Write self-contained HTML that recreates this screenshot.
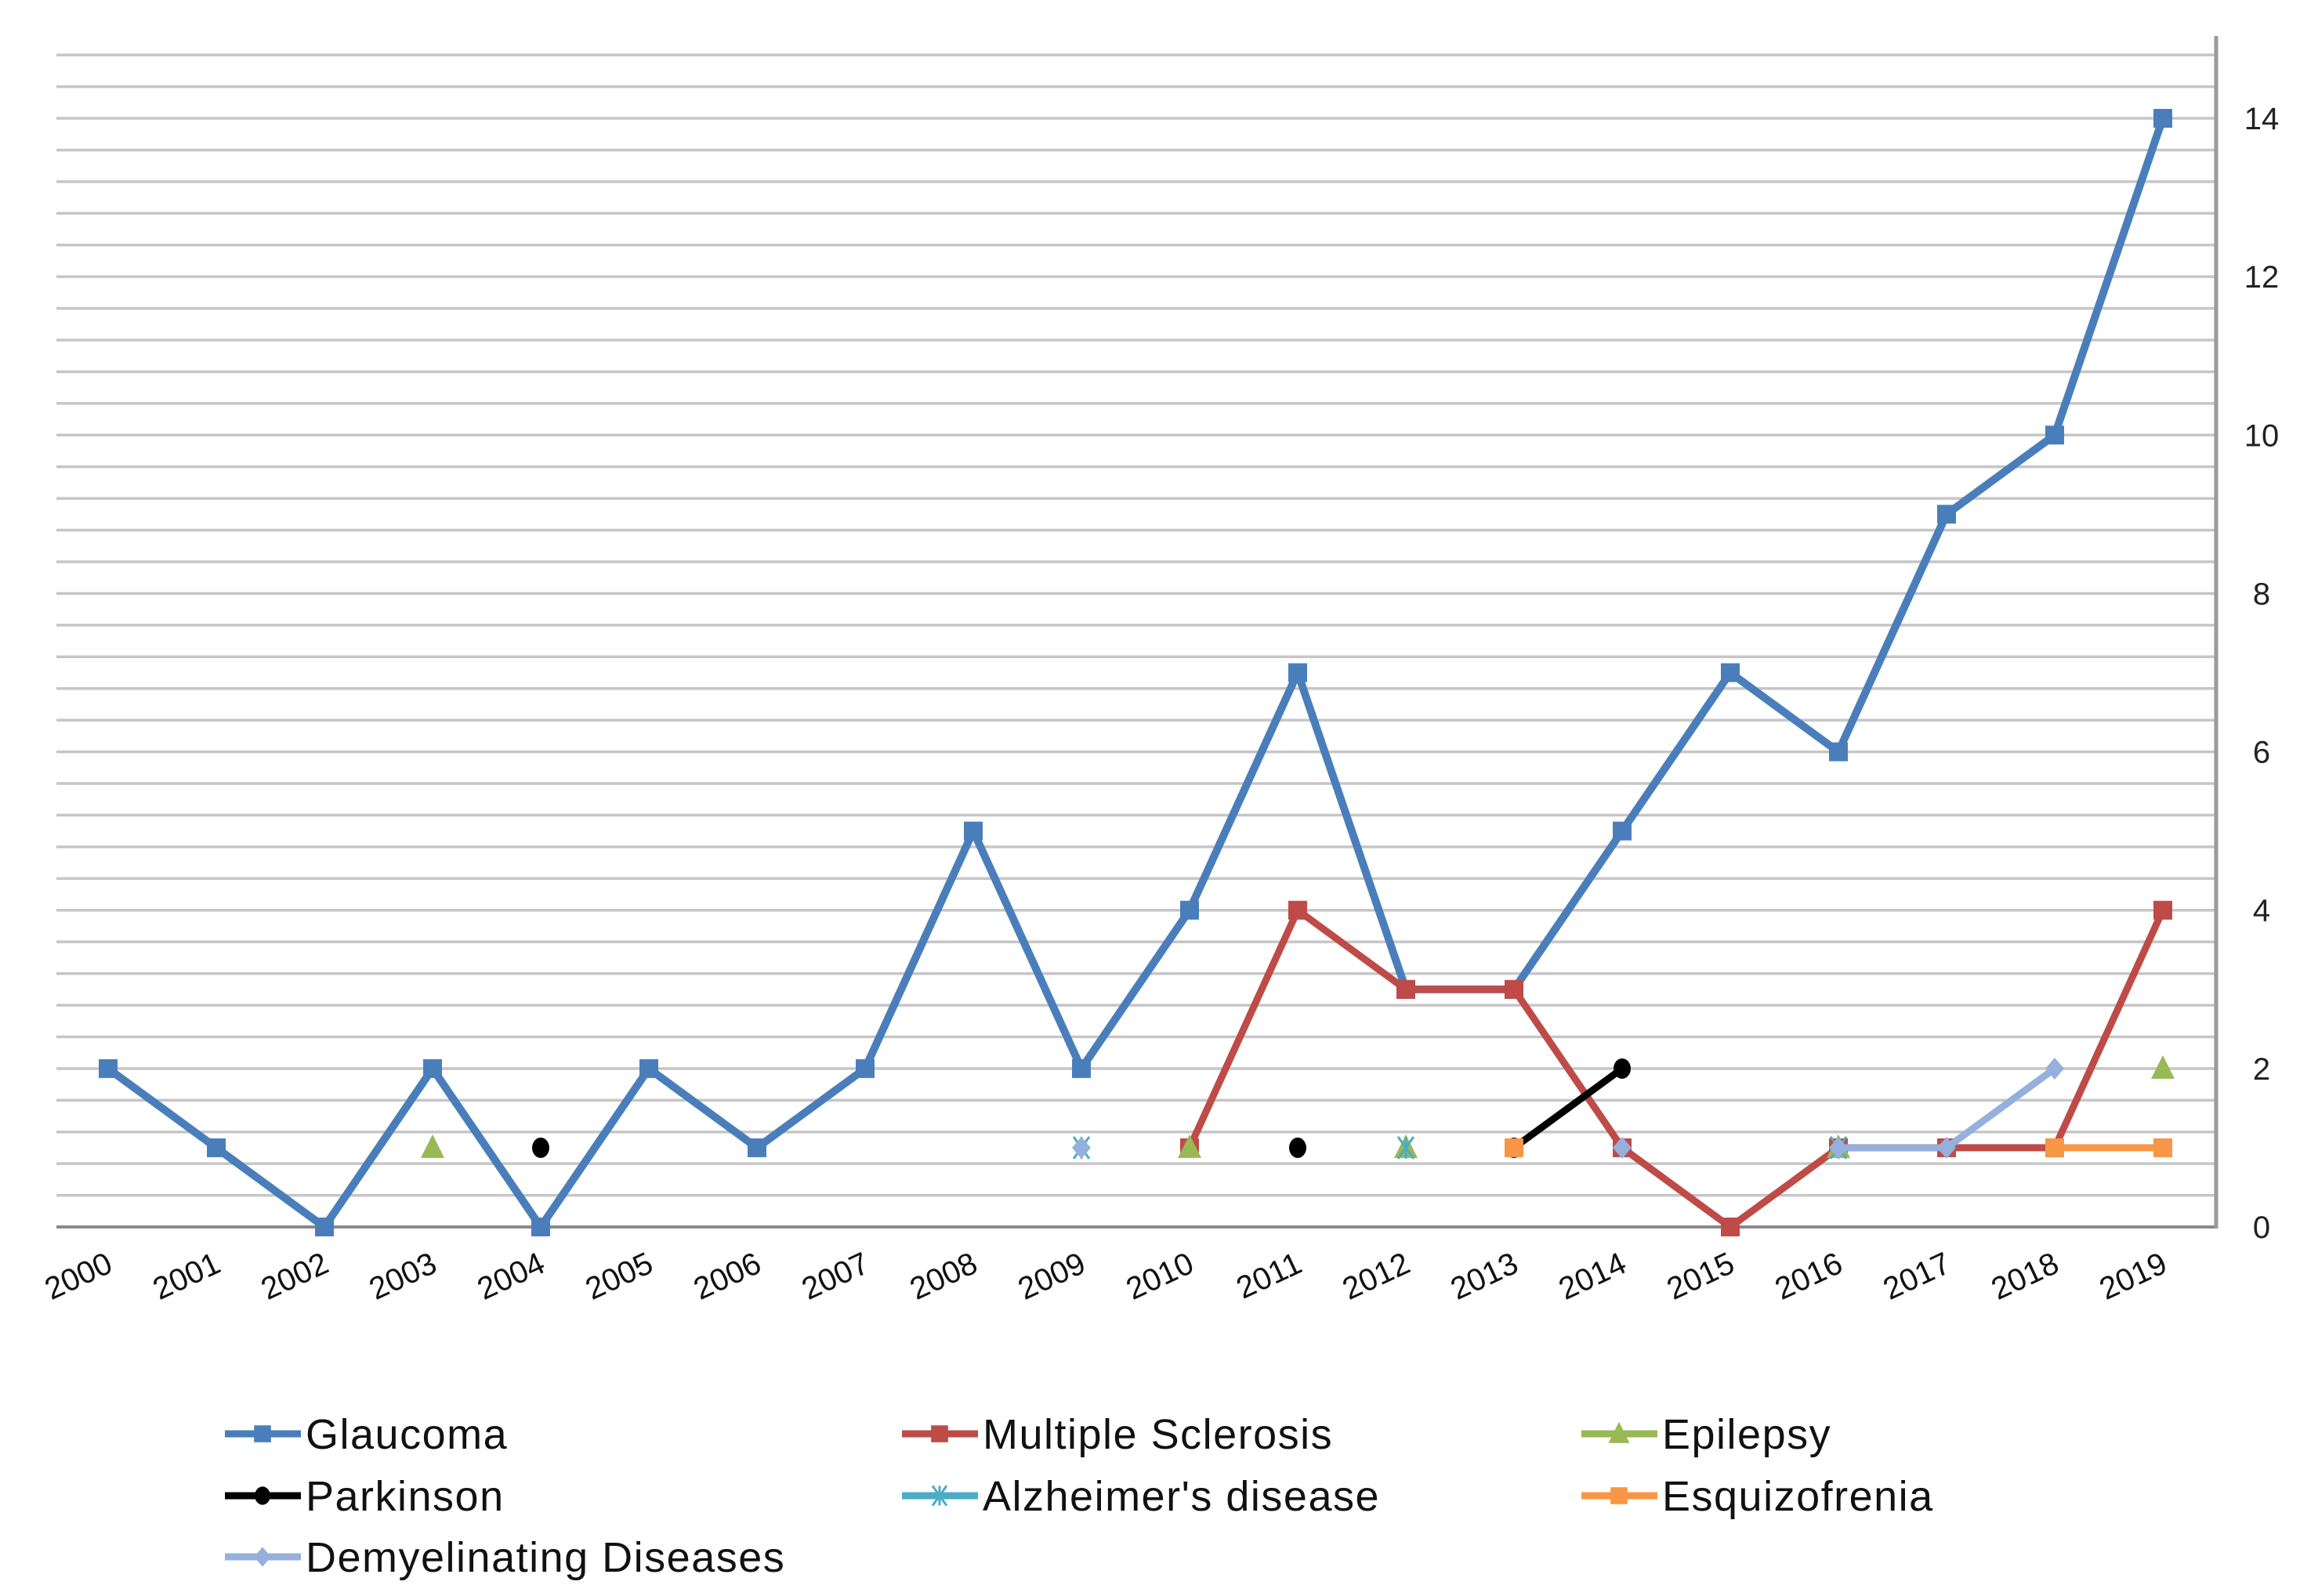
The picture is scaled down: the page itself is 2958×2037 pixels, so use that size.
<!DOCTYPE html>
<html><head><meta charset="utf-8"><style>
html,body{margin:0;padding:0;background:#fff;}
svg{display:block;font-family:"Liberation Sans","DejaVu Sans",sans-serif;}
</style></head><body>
<svg id="chart" width="2958" height="2037" viewBox="0 0 2958 2037" xmlns="http://www.w3.org/2000/svg"></svg>
<script>
const years = [2000,2001,2002,2003,2004,2005,2006,2007,2008,2009,2010,2011,2012,2013,2014,2015,2016,2017,2018,2019];
const glaucoma = [2,1,0,2,0,2,1,2,5,2,4,7,3,3,5,7,6,9,10,14];
const multipleSclerosis = [null,null,null,null,null,null,null,null,null,null,1,4,3,3,1,0,1,1,1,4];
const epilepsy = [null,null,null,1,null,null,null,null,null,null,1,null,1,null,null,null,1,null,null,2];
const parkinson = [null,null,null,null,1,null,null,null,null,null,null,1,null,1,2,null,null,null,null,null];
const alzheimer = [null,null,null,null,null,null,null,null,null,1,null,null,1,null,null,null,1,null,null,null];
const esquizofrenia = [null,null,null,null,null,null,null,null,null,null,null,null,null,1,null,null,null,null,1,1];
const demyelinating = [null,null,null,null,null,null,null,null,null,1,null,null,null,null,1,null,1,1,2,null];
const yTicks = [0,2,4,6,8,10,12,14];

const svg = document.getElementById('chart');
const NS = 'http://www.w3.org/2000/svg';
const X0 = 138, XSTEP = 138, Y0 = 1566, YUNIT = 101.07;
const xPos = i => X0 + i*XSTEP;
const yPos = v => Y0 - v*YUNIT;
function mk(tag, attrs, parent){const e=document.createElementNS(NS,tag);for(const k in attrs)e.setAttribute(k,attrs[k]);(parent||svg).appendChild(e);return e;}

const grid = mk('g',{});


for(let v=0.4; v<=14.85; v+=0.4){
  mk('line',{x1:72,x2:2826,y1:yPos(v),y2:yPos(v),stroke:'#c6c6c6','stroke-width':3.5},grid);
}
const xAxis = mk('line',{x1:72,x2:2830,y1:Y0,y2:Y0,stroke:'#8a8a8a','stroke-width':4});


const yAxis = mk('line',{x1:2828,x2:2828,y1:46,y2:Y0+2,stroke:'#9a9a9a','stroke-width':5});



yTicks.forEach(t=>{
  const tx = mk('text',{x:2886,y:yPos(t)+14,'font-size':40,'text-anchor':'middle',fill:'#222'});
  tx.textContent = t;
  
  
});
years.forEach((yr,i)=>{
  const x = xPos(i)+8, y = 1622;
  const tx = mk('text',{x:x,y:y,'font-size':40,'text-anchor':'end',fill:'#111',transform:`rotate(-25 ${x} ${y})`});
  tx.textContent = yr;
  
  
});

function marker(g, type, color, x, y, s){
  s = s||1;
  if(type==='square') mk('rect',{x:x-12*s,y:y-12*s,width:24*s,height:24*s,fill:color},g);
  else if(type==='triangle') mk('polygon',{points:`${x},${y-17*s} ${x-15*s},${y+13*s} ${x+15*s},${y+13*s}`,fill:color},g);
  else if(type==='circle') mk('ellipse',{cx:x,cy:y,rx:11*s,ry:13*s,fill:color},g);
  else if(type==='star'){
    mk('line',{x1:x-10*s,y1:y-14*s,x2:x+10*s,y2:y+14*s,stroke:color,'stroke-width':3},g);
    mk('line',{x1:x+10*s,y1:y-14*s,x2:x-10*s,y2:y+14*s,stroke:color,'stroke-width':3},g);
    mk('line',{x1:x,y1:y-14*s,x2:x,y2:y+14*s,stroke:color,'stroke-width':3},g);
  }
  else if(type==='diamond') mk('polygon',{points:`${x},${y-14*s} ${x+12*s},${y} ${x},${y+14*s} ${x-12*s},${y}`,fill:color},g);
}
function series(name, data, color, type, width){
  const g = mk('g',{});
  
  
  for(let i=0;i<data.length-1;i++){
    if(data[i]!=null && data[i+1]!=null)
      mk('line',{x1:xPos(i),y1:yPos(data[i]),x2:xPos(i+1),y2:yPos(data[i+1]),stroke:color,'stroke-width':width,'stroke-linecap':'round'},g);
  }
  data.forEach((v,i)=>{ if(v!=null) marker(g,type,color,xPos(i),yPos(v)); });
}
series('glaucoma', glaucoma, '#4a7ebb','square',10);
series('multiple-sclerosis', multipleSclerosis, '#be4b48','square',9);
series('epilepsy', epilepsy, '#98b954','triangle',9);
series('parkinson', parkinson, '#000000','circle',9);
series('alzheimers', alzheimer, '#4bacc6','star',9);
series('esquizofrenia', esquizofrenia, '#f79646','square',9);
series('demyelinating', demyelinating, '#95b0dc','diamond',9);

const legendItems = [
  ['Glaucoma','#4a7ebb','square',287,1830],
  ['Multiple Sclerosis','#be4b48','square',1151,1830],
  ['Epilepsy','#98b954','triangle',2018,1830],
  ['Parkinson','#000000','circle',287,1909],
  ["Alzheimer's disease",'#4bacc6','star',1151,1909],
  ['Esquizofrenia','#f79646','square',2018,1909],
  ['Demyelinating Diseases','#95b0dc','diamond',287,1987]
];
legendItems.forEach(it=>{
  const g = mk('g',{});
  
  
  mk('line',{x1:it[3],x2:it[3]+97,y1:it[4],y2:it[4],stroke:it[1],'stroke-width':9},g);
  marker(g,it[2],it[1],it[3]+48,it[4],0.9);
  const t = mk('text',{x:it[3]+103,y:it[4]+19,'font-size':54,'letter-spacing':1.5,fill:'#111'},g);
  t.textContent = it[0];
});
</script>
</body></html>
